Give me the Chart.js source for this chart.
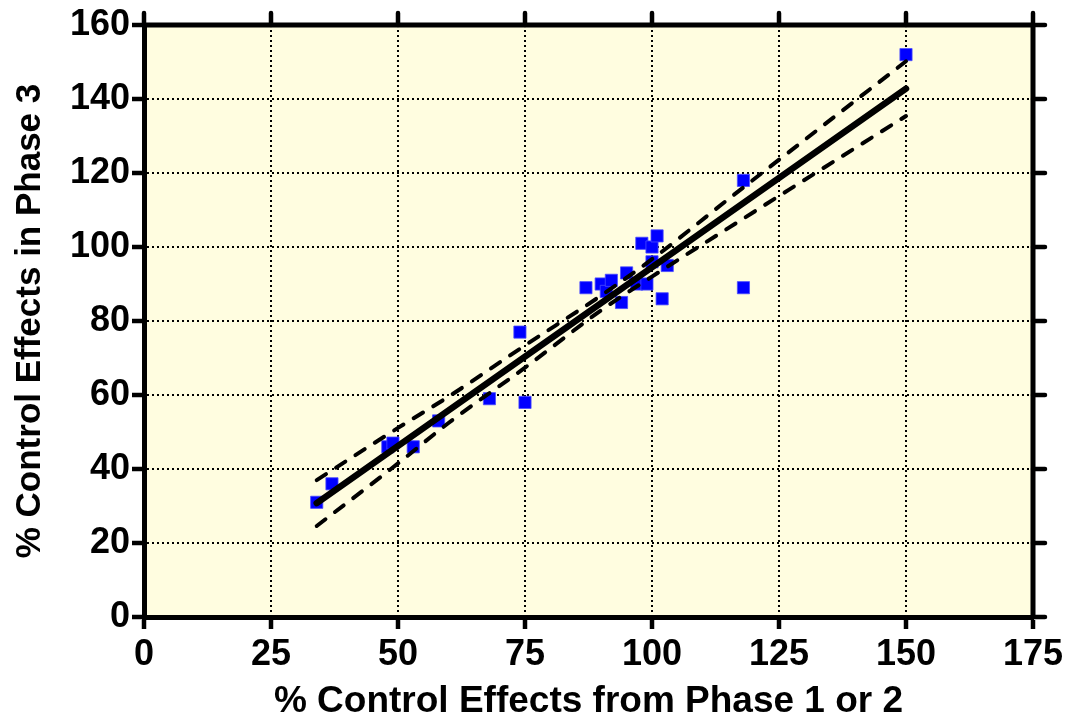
<!DOCTYPE html>
<html>
<head>
<meta charset="utf-8">
<script src="https://cdn.jsdelivr.net/npm/chart.js@4/dist/chart.umd.min.js"></script>
<style>
  html,body{margin:0;padding:0;background:#fff;}
  #wrap{width:1069px;height:724px;position:relative;}
</style>
</head>
<body>
<div id="wrap"><canvas id="c" width="1069" height="724"></canvas></div>
<script>
    // data
    const ctrlX   = [34, 37, 48, 49, 53, 58, 68, 74, 75, 87, 90, 91, 92, 94, 95, 97, 98, 100, 101, 100, 99, 102, 103, 118, 118, 150];
    const phase3Y = [31, 36, 46, 47, 46, 53, 59, 77, 58, 89, 90, 88, 91, 85, 93, 90, 101, 100, 103, 96, 90, 86, 95, 118, 89, 152];

    // fitted line endpoints and confidence band
    const fitX = [34, 150];
    const fitY = [30.8, 142.8];
    const bandX     = [34, 50, 60, 75, 90, 100, 115, 130, 150];
    const bandUpper = [37.0, 51.1, 59.6, 73.4, 86.9, 96.7, 112.9, 128.9, 150.2];
    const bandLower = [24.6, 41.5, 52.5, 67.4, 82.9, 92.0, 105.1, 118.1, 135.4];

    // axis ticks
    const xTicks = [0, 25, 50, 75, 100, 125, 150, 175];
    const yTicks = [0, 20, 40, 60, 80, 100, 120, 140, 160];

    const toXY = (xs, ys) => xs.map((x,i)=>({x:x, y:ys[i]}));
    const FONT = "'Liberation Sans', Arial, sans-serif";

    // plot background + top/right frame with outer ticks
    const framePlugin = {
      id:'frame',
      beforeDraw(chart){
        const {ctx, chartArea:a} = chart;
        ctx.save();
        ctx.fillStyle = '#fffde0';
        ctx.fillRect(a.left, a.top, a.right-a.left, a.bottom-a.top);
        ctx.restore();
      },
      afterDraw(chart){
        const {ctx, chartArea:a, scales} = chart;
        ctx.save();
        ctx.strokeStyle = '#000';
        ctx.lineCap = 'round';
        ctx.lineWidth = 5;
        ctx.beginPath();
        ctx.moveTo(a.left, a.top); ctx.lineTo(a.right, a.top);
        ctx.moveTo(a.right, a.top); ctx.lineTo(a.right, a.bottom);
        ctx.stroke();
        ctx.lineWidth = 4.5;
        ctx.beginPath();
        xTicks.forEach(v=>{ const px = scales.x.getPixelForValue(v); ctx.moveTo(px, a.top); ctx.lineTo(px, a.top-12); });
        yTicks.forEach(v=>{ const py = scales.y.getPixelForValue(v); ctx.moveTo(a.right, py); ctx.lineTo(a.right+12, py); });
        ctx.stroke();
        ctx.restore();
      }
    };

    const gridOpts = {
      color:'#000', lineWidth:2,
      tickColor:'#000', tickWidth:4.5, tickLength:12, tickBorderDash:[]
    };
    const borderOpts = {display:true, color:'#000', width:5, dash:[2,3]};

    new Chart(document.getElementById('c'), {
      type:'scatter',
      data:{
        datasets:[
          { type:'line', label:'fit', data: toXY(fitX, fitY), order:1,
            borderColor:'#000', borderWidth:6.5, borderCapStyle:'round', pointRadius:0, fill:false },
          { type:'line', label:'upper', data: toXY(bandX, bandUpper), order:1,
            borderColor:'#000', borderWidth:4, borderDash:[11,12], borderCapStyle:'round',
            cubicInterpolationMode:'monotone', pointRadius:0, fill:false },
          { type:'line', label:'lower', data: toXY(bandX, bandLower), order:1,
            borderColor:'#000', borderWidth:4, borderDash:[11,12], borderCapStyle:'round',
            cubicInterpolationMode:'monotone', pointRadius:0, fill:false },
          { label:'points', data: toXY(ctrlX, phase3Y), order:3,
            pointStyle:'rect', pointRadius:8.6, backgroundColor:'#0000ff', borderColor:'#4a4aff', borderWidth:0.8 }
        ]
      },
      options:{
        responsive:false,
        animation:false,
        layout:{padding:{left:0, right:36, top:25, bottom:0}},
        plugins:{legend:{display:false}, tooltip:{enabled:false}},
        scales:{
          x:{
            type:'linear', min:0, max:175,
            afterBuildTicks(s){ s.ticks = xTicks.map(v=>({value:v})); },
            afterFit(s){ s.height = 724-617; },
            grid: gridOpts,
            border: borderOpts,
            ticks:{color:'#000', padding:4, font:{family:FONT, size:36, weight:'bold'}},
            title:{display:true, text:'% Control Effects from Phase 1 or 2', color:'#000',
              padding:{top:0, bottom:0}, font:{family:FONT, size:37, weight:'bold'}}
          },
          y:{
            type:'linear', min:0, max:160,
            afterBuildTicks(s){ s.ticks = yTicks.map(v=>({value:v})); },
            afterFit(s){ s.width = 144; },
            grid: gridOpts,
            border: borderOpts,
            ticks:{color:'#000', padding:2, font:{family:FONT, size:36, weight:'bold'}},
            title:{display:true, text:'% Control Effects in Phase 3', color:'#000',
              padding:{top:9, bottom:0}, font:{family:FONT, size:35, weight:'bold'}}
          }
        }
      },
      plugins:[framePlugin]
    });
</script>
</body>
</html>
